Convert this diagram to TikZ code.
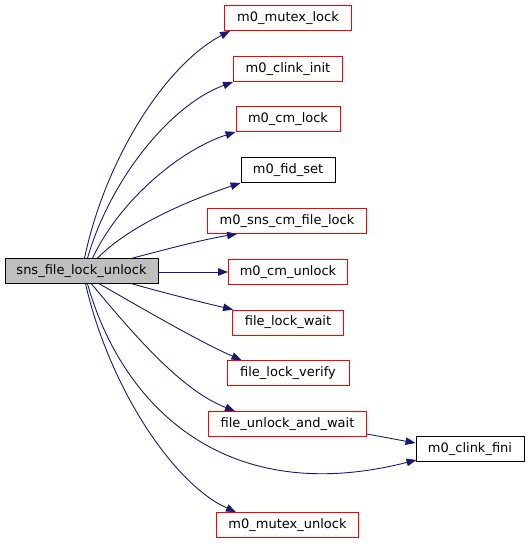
\documentclass[tikz,border=0pt]{standalone}
\usepackage{fontspec}
\setmainfont{DejaVu Sans}
\usetikzlibrary{arrows.meta,calc}
\definecolor{edgeblue}{HTML}{191970}
\definecolor{srcgray}{HTML}{BFBFBF}
\begin{document}
\begin{tikzpicture}[x=1pt,y=-1pt,
  fnbox/.style={draw, line width=0.9pt, fill=white, minimum height=25pt, inner sep=0pt, font=\fontsize{13}{15}\selectfont},
  redbox/.style={fnbox, draw=red},
  blackbox/.style={fnbox, draw=black},
  srcbox/.style={fnbox, draw=black, fill=srcgray},
  call/.style={draw=edgeblue, line width=0.9pt, -{Triangle[length=10pt,width=7.5pt]}, fill=none}]
\useasboundingbox (0,0) rectangle (529,544);
\node[srcbox, minimum width=153pt] (src) at (81.5,271) {sns\_file\_lock\_unlock};
\node[redbox, minimum width=127pt] (mlock) at (288,18) {m0\_mutex\_lock};
\node[redbox, minimum width=109pt] (cinit) at (288,69) {m0\_clink\_init};
\node[redbox, minimum width=104pt] (cmlock) at (288,119) {m0\_cm\_lock};
\node[blackbox, minimum width=94pt] (fidset) at (288,170) {m0\_fid\_set};
\node[redbox, minimum width=159pt] (snscm) at (287,221) {m0\_sns\_cm\_file\_lock};
\node[redbox, minimum width=119pt] (cmunlock) at (288,272) {m0\_cm\_unlock};
\node[redbox, minimum width=111pt] (flwait) at (288,322.5) {file\_lock\_wait};
\node[redbox, minimum width=122pt] (flverify) at (288,373) {file\_lock\_verify};
\node[redbox, minimum width=158pt] (fuwait) at (287.5,424) {file\_unlock\_and\_wait};
\node[blackbox, minimum width=108pt] (cfini) at (470,449) {m0\_clink\_fini};
\node[redbox, minimum width=142pt] (munlock) at (287.5,525) {m0\_mutex\_unlock};

\draw[call] ($(src.north west)+(80,0)$) .. controls (105,160) and (165,65) .. ($(mlock.south west)+(6,0)$);
\draw[call] ($(src.north west)+(83,0)$) .. controls (110,180) and (170,105) .. ($(cinit.south west)+(0,0)$);
\draw[call] ($(src.north west)+(88,0)$) .. controls (120,200) and (180,150) .. ($(cmlock.south west)+(0,0)$);
\draw[call] ($(src.north west)+(93,0)$) .. controls (130,225) and (190,200) .. ($(fidset.south west)+(0,0)$);
\draw[call] ($(src.north west)+(128,0)$) .. controls (160,251) and (200,240) .. ($(snscm.south west)+(30,0)$);
\draw[call] (src.east |- cmunlock.west) -- (cmunlock.west);
\draw[call] ($(src.south west)+(128,0)$) .. controls (165,293) and (200,302) .. ($(flwait.north west)+(1,0)$);
\draw[call] ($(src.south west)+(95,0)$) .. controls (145,310) and (200,342) .. ($(flverify.north west)+(15,0)$);
\draw[call] ($(src.south west)+(87,0)$) .. controls (130,330) and (180,390) .. ($(fuwait.north west)+(27,0)$);
\draw[call] ($(src.south west)+(83,0)$) .. controls (120,400) and (220,510) .. ($(cfini.south west)+(1,-2)$);
\draw[call] ($(src.south west)+(81,0)$) .. controls (110,390) and (175,485) .. ($(munlock.north west)+(20,0)$);
\draw[call] ($(fuwait.east)+(0,10)$) -- ($(cfini.west)+(0,-6)$);
\end{tikzpicture}
\end{document}
